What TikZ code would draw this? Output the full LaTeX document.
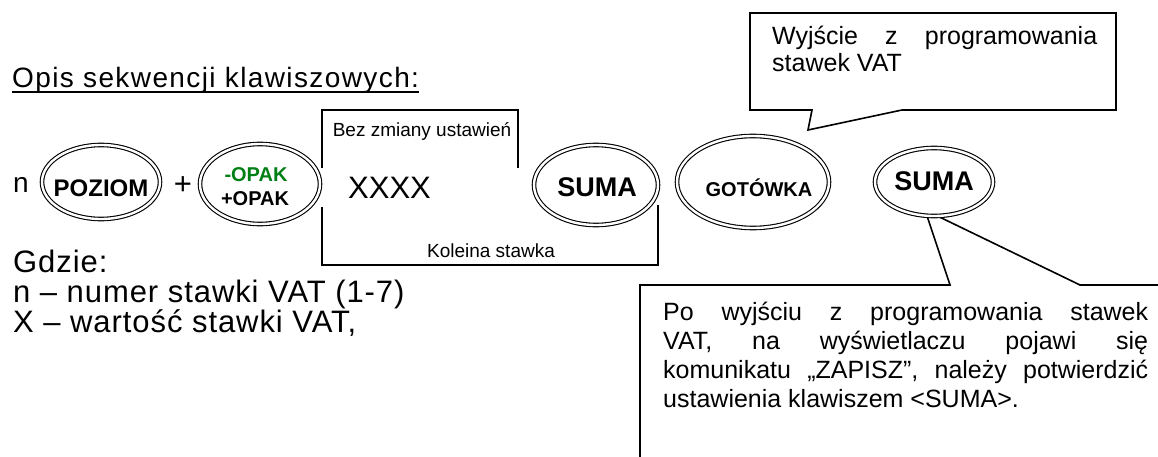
\documentclass[tikz,border=0pt]{standalone}
\usepackage{fontspec}
\setmainfont{Liberation Sans}
\usetikzlibrary{shapes.geometric}
\definecolor{opakgreen}{RGB}{0,128,20}
\tikzset{
  keyshape/.style={ellipse, draw, line width=1.1pt, double, double distance=2.4pt, fill=white, inner sep=0pt},
  keylabel/.style={inner sep=0pt, font=\bfseries},
  frame/.style={line width=1.6pt, line join=miter},
  txt/.style={inner sep=0pt, anchor=base west},
}
\newcommand{\fs}[1]{\fontsize{#1}{#1}\selectfont}
\begin{document}
\begin{tikzpicture}[x=1pt,y=-1pt]
\useasboundingbox (0,0) rectangle (1158,457);
\clip (0,0) rectangle (1158,457);
\fill[white] (0,0) rectangle (1158,457);

% title
\node[txt, font=\fs{28}\addfontfeature{LetterSpace=5}] (title) at (12,88) {Opis sekwencji klawiszowych:};
\draw[line width=1.6pt] ([yshift=-4pt]title.base west) -- ([yshift=-4pt]title.base east);

% sequence
\node[txt, font=\fs{28}] (n) at (13,193) {n};
\node[keyshape, minimum width=118pt, minimum height=74pt] (poziom) at (101,182) {};
\node[keylabel, font=\fs{24}\bfseries] (poziomt) at (101,188) {POZIOM};
\node[inner sep=0pt, font=\fs{31}] (plus) at (183,186) {+};
\node[keyshape, minimum width=120pt, minimum height=80pt] (opak) at (260,184) {};
\node[keylabel, font=\fs{20}\bfseries, text=opakgreen] (opak1) at (256,175) {-OPAK};
\node[keylabel, font=\fs{20}\bfseries] (opak2) at (255,199) {+OPAK};

% bracket box
\draw[frame] (322,168) -- (322,110) -- (518,110) -- (518,168);
\draw[frame] (322,207) -- (322,265) -- (658,265) -- (658,205);
\node[inner sep=0pt, anchor=base, font=\fs{19}] (bez) at (422,137) {Bez zmiany ustawień};
\node[inner sep=0pt, anchor=base, font=\fs{19}] (kol) at (491,257) {Koleina stawka};
\node[txt, font=\fs{31}] (xxxx) at (348,198) {XXXX};

\node[keyshape, minimum width=124pt, minimum height=80pt] (suma1) at (596,185) {};
\node[keylabel, font=\fs{27}\bfseries] (suma1t) at (597,187) {SUMA};

\node[keyshape, minimum width=152pt, minimum height=92pt] (gotowka) at (753,182) {};
\node[keylabel, font=\fs{20}\bfseries] (gotowkat) at (759,188) {GOTÓWKA};

% bottom callout (behind second SUMA)
\coordinate (btip) at (925,210);
\draw[frame] (640,470) -- (640,285) -- (950,285) -- (btip) -- (1080,285) -- (1170,285);
\node[keyshape, minimum width=118pt, minimum height=68pt] (suma2) at (934,182) {};
\node[keylabel, font=\fs{27}\bfseries] (suma2t) at (934,181) {SUMA};

\node[txt] (bottomtext) at (663,320) {\parbox[t]{485pt}{\fontsize{25}{29}\selectfont
\makebox[485pt][s]{Po wyjściu z programowania stawek}\\
\makebox[485pt][s]{VAT, na wyświetlaczu pojawi się}\\
\makebox[485pt][s]{komunikatu „ZAPISZ”, należy potwierdzić}\\
ustawienia klawiszem <SUMA>.}};

% top callout
\coordinate (ttip) at (808,130);
\draw[frame, fill=white] (750,13) -- (1116,13) -- (1116,110) -- (902,110) -- (ttip) -- (812,110) -- (750,110) -- cycle;
\node[txt] (toptext) at (772,45) {\parbox[t]{325pt}{\fontsize{25}{27}\selectfont
\makebox[325pt][s]{Wyjście z programowania}\\
stawek VAT}};

% legend
\node[txt] (legend) at (13,272) {\parbox[t]{420pt}{\fontsize{31}{30}\selectfont\addfontfeature{LetterSpace=3}%
Gdzie:\\
n – numer stawki VAT (1-7)\\
X – wartość stawki VAT,}};
\end{tikzpicture}
\end{document}
